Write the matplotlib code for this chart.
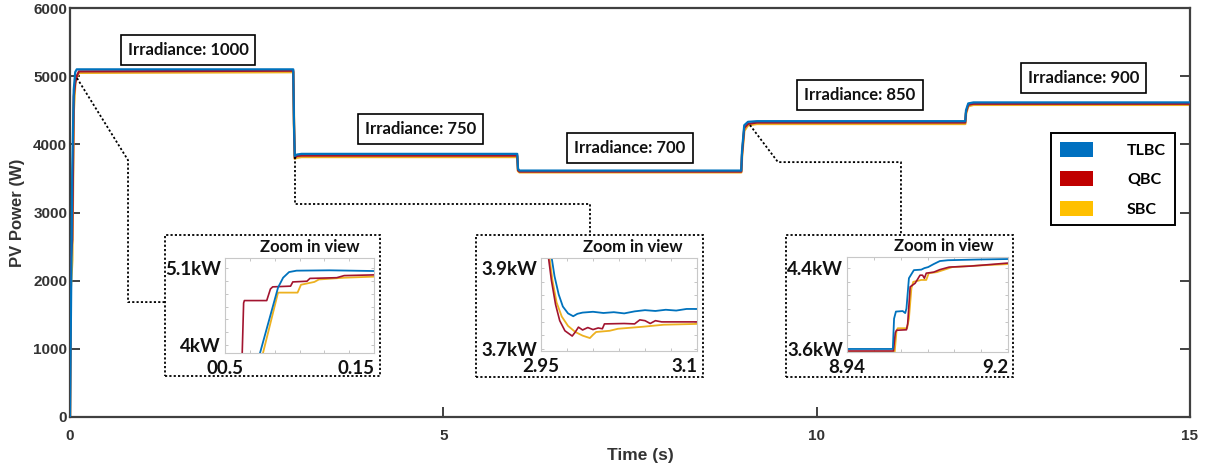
import numpy as np
import matplotlib
matplotlib.use('Agg')
from matplotlib import pyplot as plt
from matplotlib.patches import Rectangle, Patch
from matplotlib.ticker import AutoMinorLocator


# ---- main trace (breakpoints) ----
t_main = [0, 0.01, 0.03, 0.05, 0.07, 0.09, 0.12, 2.99, 3.0, 3.01, 3.04, 3.1,
          5.99, 6.0, 6.02, 6.1, 8.99, 9.0, 9.03, 9.08, 9.2,
          11.99, 12.0, 12.03, 12.1, 15.0]
p_tlbc = [0, 1200, 3600, 4800, 5060, 5100, 5100, 5100, 4300, 3830, 3850, 3860,
          3860, 3640, 3615, 3615, 3615, 3900, 4280, 4330, 4340,
          4340, 4500, 4600, 4615, 4615]
p_qbc = [0, 2300, 2600, 4700, 4900, 5000, 5070, 5080, 4300, 3800, 3830, 3835,
         3835, 3620, 3600, 3600, 3600, 3850, 4240, 4300, 4320,
         4320, 4470, 4580, 4595, 4595]
p_sbc = [0, 1900, 2300, 4500, 4900, 4990, 5050, 5060, 4300, 3790, 3805, 3815,
         3815, 3610, 3590, 3590, 3590, 3820, 4200, 4280, 4300,
         4300, 4450, 4560, 4580, 4580]

irr_labels = ['Irradiance: 1000', 'Irradiance: 750', 'Irradiance: 700',
              'Irradiance: 850', 'Irradiance: 900']
irr_x = [1.58, 4.69, 7.50, 10.58, 13.57]
irr_y = [5380, 4220, 3940, 4720, 4980]

legend_labels = ['TLBC', 'QBC', 'SBC']

# ---- zoom 1 : start-up ----
z1_t_tlbc = [0.072, 0.0735, 0.0856, 0.089, 0.093, 0.098, 0.12, 0.15]
z1_p_tlbc = [3850, 3890, 4820, 4960, 5040, 5060, 5065, 5055]
z1_t_qbc = [0.0615, 0.0625, 0.063, 0.078, 0.0805, 0.082, 0.094, 0.0955, 0.105,
            0.107, 0.125, 0.13, 0.15]
z1_p_qbc = [3850, 4600, 4635, 4635, 4800, 4830, 4840, 4900, 4910,
            4950, 4960, 4990, 5000]
z1_t_sbc = [0.0745, 0.0755, 0.0856, 0.0987, 0.101, 0.11, 0.113, 0.13, 0.15]
z1_p_sbc = [3850, 3890, 4748, 4748, 4860, 4900, 4935, 4960, 4975]

# ---- zoom 2 : 1000 -> 750 ----
z2_t_tlbc = [2.960, 2.963, 2.967, 2.971, 2.976, 2.981, 2.985, 2.99, 3.0, 3.01,
             3.02, 3.03, 3.04, 3.05, 3.06, 3.07, 3.08, 3.09, 3.1]
z2_p_tlbc = [3930, 3880, 3835, 3805, 3788, 3781, 3787, 3790, 3792, 3789,
             3791, 3788, 3793, 3796, 3794, 3797, 3795, 3799, 3799]
z2_t_qbc = [2.957, 2.960, 2.964, 2.968, 2.973, 2.980, 2.983, 2.986, 2.99,
            2.995, 3.0, 3.005, 3.009, 3.011, 3.03, 3.04, 3.045, 3.05, 3.055,
            3.06, 3.066, 3.1]
z2_p_qbc = [3930, 3870, 3810, 3770, 3745, 3732, 3742, 3754, 3747,
            3753, 3748, 3752, 3750, 3762, 3763, 3762, 3772, 3770, 3763,
            3770, 3767, 3767]
z2_t_sbc = [2.958, 2.961, 2.965, 2.970, 2.976, 2.983, 2.990, 2.997, 3.0,
            3.003, 3.016, 3.024, 3.048, 3.068, 3.1]
z2_p_sbc = [3930, 3870, 3815, 3780, 3757, 3742, 3733, 3727, 3735,
            3742, 3745, 3750, 3755, 3760, 3762]

# ---- zoom 3 : 700 -> 850 ----
z3_t_tlbc = [8.94, 9.014, 9.016, 9.019, 9.03, 9.034, 9.036, 9.040, 9.048, 9.06,
             9.065, 9.071, 9.08, 9.09, 9.103, 9.15, 9.2]
z3_p_tlbc = [3600, 3600, 3900, 3970, 3975, 3955, 4000, 4300, 4380, 4385,
             4400, 4410, 4440, 4470, 4478, 4485, 4490]
z3_t_qbc = [8.94, 9.015, 9.018, 9.02, 9.036, 9.038, 9.042, 9.05, 9.058, 9.062,
            9.065, 9.068, 9.08, 9.09, 9.105, 9.14, 9.2]
z3_p_qbc = [3580, 3580, 3760, 3785, 3790, 3850, 4215, 4250, 4330, 4330,
            4300, 4350, 4360, 4385, 4410, 4420, 4450]
z3_t_sbc = [8.94, 9.017, 9.02, 9.022, 9.037, 9.040, 9.044, 9.047, 9.06, 9.068,
            9.072, 9.085, 9.1, 9.11, 9.15, 9.2]
z3_p_sbc = [3570, 3570, 3780, 3805, 3805, 3900, 4200, 4264, 4283, 4283,
            4350, 4360, 4390, 4410, 4425, 4440]

zoom_xlim = [(0.05, 0.15), (2.95, 3.1), (8.94, 9.2)]
zoom_ylim = [(3890, 5240), (3695, 3925), (3570, 4510)]
zoom_yticks = [(4000, 5100), (3700, 3900), (3600, 4400)]
zoom_yticklabels = [('4kW', '5.1kW'), ('3.7kW', '3.9kW'), ('3.6kW', '4.4kW')]
zoom_xticklabels = [('00.5', '0.15'), ('2.95', '3.1'), ('8.94', '9.2')]

# dotted leader lines (main-axes data units)
lead1_x = [0.094, 0.777, 0.777, 1.272]
lead1_y = [4971, 3768, 1686, 1686]
lead2_x = [3.013, 3.013, 6.964, 6.964]
lead2_y = [3812, 3123, 3123, 2669]
lead3_x = [9.107, 9.482, 11.129, 11.129]
lead3_y = [4282, 3739, 3739, 2669]

c_tlbc = '#0072BD'
c_qbc = '#A2142F'
c_sbc = '#EDB120'
leg_colors = ['#0070C0', '#C00000', '#FFC000']

W, H = 1208, 468
fig = plt.figure(figsize=(W / 100, H / 100), dpi=100)

def fr(x0, y0, x1, y1):
    # pixel box -> figure fraction [l, b, w, h]
    return [x0 / W, 1 - y1 / H, (x1 - x0) / W, (y1 - y0) / H]

ax = fig.add_axes(fr(70, 8, 1190, 417))
sans = 'Liberation Sans'
cal = 'Lato'

ax.plot(t_main, p_sbc, color=c_sbc, lw=1.8, zorder=2)
ax.plot(t_main, p_qbc, color=c_qbc, lw=1.6, zorder=3)
ax.plot(t_main, p_tlbc, color=c_tlbc, lw=1.6, zorder=4)

ax.set_xlim(0, 15)
ax.set_ylim(0, 6000)
ax.set_xticks([0, 5, 10, 15])
ax.set_yticks(range(0, 7000, 1000))
ax.tick_params(axis='both', direction='in', length=7, width=1.3,
               colors='#333333', labelsize=11)
ax.tick_params(axis='y', right=True, pad=2)
ax.tick_params(axis='x', pad=9)
for lab in ax.get_xticklabels() + ax.get_yticklabels():
    lab.set_fontfamily(sans)
    lab.set_fontweight('bold')
for s in ax.spines.values():
    s.set_linewidth(1.6)
    s.set_color('#404040')

ax.set_xlabel('Time (s)', fontsize=12.5, fontweight='bold', family=sans,
              color='#333333')
ax.set_ylabel('PV Power (W)', fontsize=12, fontweight='bold', family=sans,
              color='#333333')
ax.xaxis.set_label_coords(0.509, -0.076)
ax.yaxis.set_label_coords(-0.040, 0.5)

for lbl, x, y in zip(irr_labels, irr_x, irr_y):
    ax.text(x, y, lbl, ha='center', va='center', fontsize=12,
            fontweight='bold', family=cal, color='#111111', zorder=6,
            bbox=dict(boxstyle='square,pad=0.42', fc='white', ec='black',
                      lw=1.2))

handles = [Patch(facecolor=c, edgecolor='none') for c in leg_colors]
leg = ax.legend(handles, legend_labels, loc='upper left',
                bbox_to_anchor=(0.876, 0.694), fancybox=False,
                edgecolor='black', framealpha=1, handlelength=2.1,
                handleheight=1.05, handletextpad=2.1, labelspacing=0.85,
                borderpad=0.55, borderaxespad=0,
                prop=dict(family=cal, weight='bold', size=11.5))
leg.get_frame().set_linewidth(1.4)

for lx, ly in [(lead1_x, lead1_y), (lead2_x, lead2_y), (lead3_x, lead3_y)]:
    ax.plot(lx, ly, ls=(0, (1.2, 1.2)), color='black', lw=1.3, zorder=5)

# ---- zoom-in views ----
boxes = [(165, 235, 380, 376), (476, 235, 703, 377), (786, 235, 1013, 377)]
inner = [(225, 258, 374, 353), (541, 258, 697, 351), (847, 257, 1008, 352)]
zoom_data = [
    (z1_t_tlbc, z1_p_tlbc, z1_t_qbc, z1_p_qbc, z1_t_sbc, z1_p_sbc),
    (z2_t_tlbc, z2_p_tlbc, z2_t_qbc, z2_p_qbc, z2_t_sbc, z2_p_sbc),
    (z3_t_tlbc, z3_p_tlbc, z3_t_qbc, z3_p_qbc, z3_t_sbc, z3_p_sbc),
]

for i in range(3):
    bx0, by0, bx1, by1 = boxes[i]
    fig.patches.append(Rectangle(
        (bx0 / W, 1 - by1 / H), (bx1 - bx0) / W, (by1 - by0) / H,
        transform=fig.transFigure, fill=True, fc='white', ec='black',
        lw=1.3, ls=(0, (1.2, 1.2)), zorder=5))

    iax = fig.add_axes(fr(*inner[i]))
    iax.set_zorder(10)
    tt, pt, tq, pq, ts, ps = zoom_data[i]
    iax.plot(ts, ps, color=c_sbc, lw=1.3)
    iax.plot(tq, pq, color=c_qbc, lw=1.2)
    iax.plot(tt, pt, color=c_tlbc, lw=1.3)
    iax.set_xlim(*zoom_xlim[i])
    iax.set_ylim(*zoom_ylim[i])
    iax.set_xticks(zoom_xlim[i])
    iax.set_xticklabels(zoom_xticklabels[i])
    iax.set_yticks(zoom_yticks[i])
    iax.set_yticklabels(zoom_yticklabels[i])
    iax.xaxis.set_minor_locator(AutoMinorLocator(6))
    iax.yaxis.set_minor_locator(AutoMinorLocator(6))
    iax.tick_params(which='both', direction='in', length=2.5, width=0.6,
                    color='#BBBBBB', top=True, right=True)
    iax.tick_params(axis='x', pad=5)
    iax.tick_params(axis='y', pad=3)
    for lab in iax.get_xticklabels() + iax.get_yticklabels():
        lab.set_fontfamily(cal)
        lab.set_fontweight('bold')
        lab.set_fontsize(13.5)
        lab.set_color('#111111')
    iax.xaxis.get_major_ticks()[1].label1.set_ha('right')
    iax.yaxis.get_major_ticks()[0].label1.set_va('center_baseline')
    for s in iax.spines.values():
        s.set_color('#C8C8C8')
        s.set_linewidth(0.8)
    iw = inner[i][2] - inner[i][0]
    iax.text(1 - 14 / iw, 1.03, 'Zoom in view', transform=iax.transAxes,
             ha='right', va='bottom', fontsize=12, fontweight='bold',
             family=cal, color='#111111')

fig.savefig('out.png', dpi=100)
